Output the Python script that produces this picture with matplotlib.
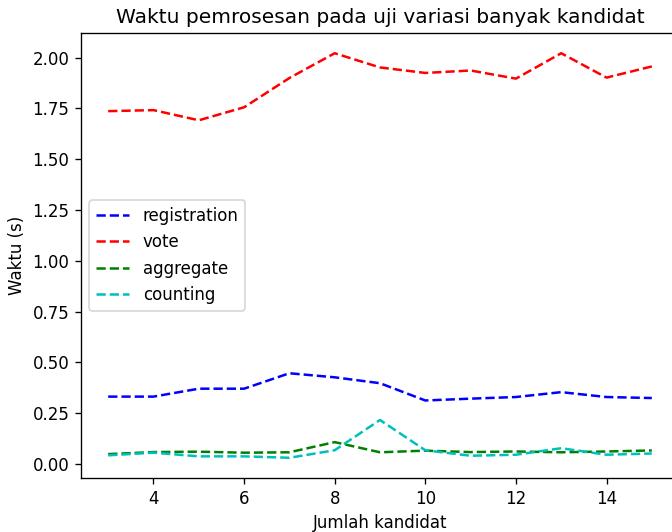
import matplotlib
matplotlib.use("Agg")
import matplotlib.pyplot as plt

kandidat = [3, 4, 5, 6, 7, 8, 9, 10, 11, 12, 13, 14, 15]
registration = [0.332, 0.332, 0.371, 0.371, 0.447, 0.427, 0.398, 0.313, 0.322, 0.330, 0.354, 0.330, 0.325]
vote = [1.737, 1.742, 1.692, 1.756, 1.900, 2.022, 1.952, 1.925, 1.937, 1.897, 2.022, 1.902, 1.957]
aggregate = [0.049, 0.059, 0.061, 0.056, 0.058, 0.108, 0.058, 0.066, 0.059, 0.062, 0.058, 0.062, 0.067]
counting = [0.043, 0.056, 0.038, 0.038, 0.031, 0.068, 0.217, 0.068, 0.041, 0.046, 0.078, 0.046, 0.052]

# rendered at 120 dpi so that text and lines come out a bit heavier
fig = plt.figure(figsize=(672 / 120, 532 / 120), dpi=120)
ax = fig.add_axes([81 / 672, 54 / 532, 598 / 672, 445 / 532])

ax.plot(kandidat, registration, 'b--', label='registration')
ax.plot(kandidat, vote, 'r--', label='vote')
ax.plot(kandidat, aggregate, 'g--', label='aggregate')
ax.plot(kandidat, counting, 'c--', label='counting')

ax.set_title('Waktu pemrosesan pada uji variasi banyak kandidat', fontsize=12.1)
ax.set_xlabel('Jumlah kandidat')
ax.set_ylabel('Waktu (s)')
ax.legend(loc='center left')

fig.savefig('out.png', dpi=120)
